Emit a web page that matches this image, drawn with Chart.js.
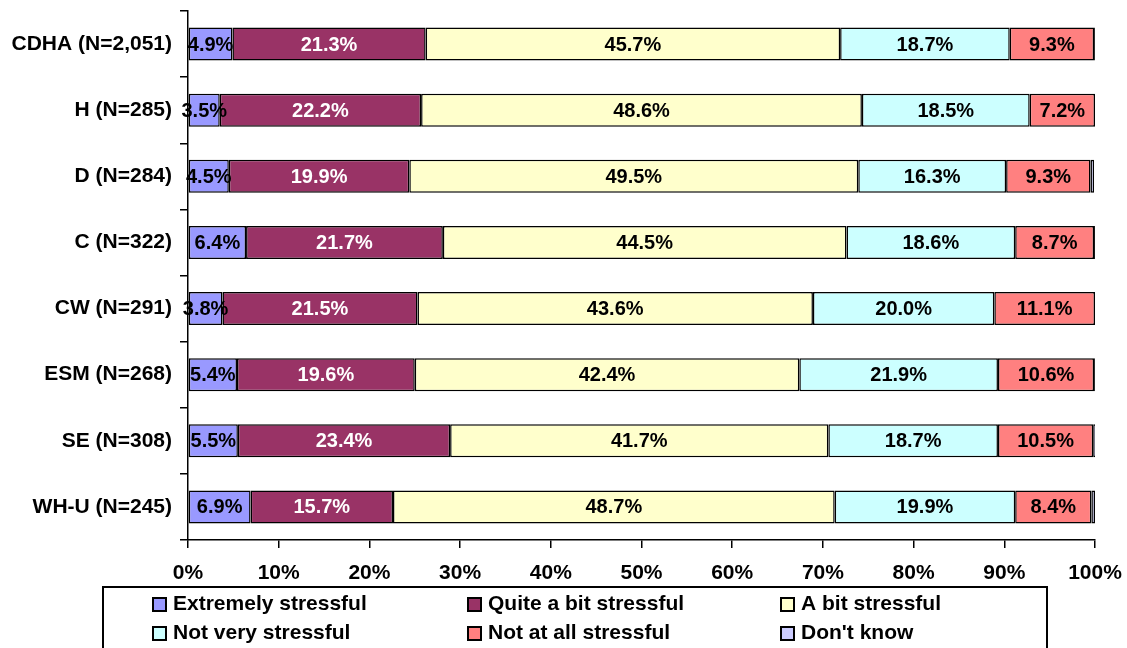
<!DOCTYPE html>
<html>
<head>
<meta charset="utf-8">
<script src="https://cdn.jsdelivr.net/npm/chart.js@4.4.0/dist/chart.umd.min.js"></script>
<style>
  html, body { margin: 0; padding: 0; background: #fff; }
</style>
</head>
<body>
<canvas id="stressChart" width="1127" height="648"></canvas>
<script>
const categories = ['CDHA (N=2,051)', 'H (N=285)', 'D (N=284)', 'C (N=322)', 'CW (N=291)', 'ESM (N=268)', 'SE (N=308)', 'WH-U (N=245)'];

const extremely = [4.9, 3.5, 4.5, 6.4, 3.8, 5.4, 5.5, 6.9];
const quiteABit = [21.3, 22.2, 19.9, 21.7, 21.5, 19.6, 23.4, 15.7];
const aBit      = [45.7, 48.6, 49.5, 44.5, 43.6, 42.4, 41.7, 48.7];
const notVery   = [18.7, 18.5, 16.3, 18.6, 20.0, 21.9, 18.7, 19.9];
const notAtAll  = [9.3, 7.2, 9.3, 8.7, 11.1, 10.6, 10.5, 8.4];
const dontKnow  = [0.4, 0.0, 0.4, 0.1, 0.0, 0.1, 0.4, 0.4];

const xTickStep = 10;   // 0% .. 100%

const FONT = "'Liberation Sans', Arial, sans-serif";

// value labels centred on each segment (no datalabels plugin offline)
const barLabels = {
    id: 'barLabels',
    afterDatasetsDraw(chart) {
        const ctx = chart.ctx;
        ctx.save();
        ctx.font = 'bold 20px ' + FONT;
        ctx.textAlign = 'center';
        ctx.textBaseline = 'middle';
        chart.data.datasets.forEach((ds, i) => {
            if (!ds.labelColor) return;
            chart.getDatasetMeta(i).data.forEach((bar, j) => {
                ctx.fillStyle = ds.labelColor;
                ctx.fillText(ds.data[j].toFixed(1) + '%', (bar.x + bar.base) / 2, bar.y + 1);
            });
        });
        ctx.restore();
    }
};

// boxed legend, 3 columns x 2 rows like the original
const boxLegend = {
    id: 'boxLegend',
    afterDraw(chart) {
        const ctx = chart.ctx;
        const cols = [153, 468, 781];
        const rows = [604, 633];
        ctx.save();
        ctx.strokeStyle = '#000';
        ctx.lineWidth = 2;
        ctx.strokeRect(103, 587, 944, 80);
        ctx.font = 'bold 21px ' + FONT;
        ctx.textBaseline = 'middle';
        ctx.textAlign = 'left';
        chart.data.datasets.forEach((ds, i) => {
            const x = cols[i % 3];
            const y = rows[Math.floor(i / 3)];
            ctx.fillStyle = ds.backgroundColor;
            ctx.fillRect(x, y - 6, 13, 13);
            ctx.lineWidth = 2;
            ctx.strokeRect(x, y - 6, 13, 13);
            ctx.fillStyle = '#000';
            ctx.fillText(ds.label, x + 20, y);
        });
        ctx.restore();
    }
};

const common = { borderColor: '#000', borderWidth: 1.5, borderSkipped: false, categoryPercentage: 1, barPercentage: 0.5 };

new Chart(document.getElementById('stressChart'), {
    type: 'bar',
    data: {
        labels: categories,
        datasets: [
            { ...common, label: 'Extremely stressful',   data: extremely, backgroundColor: '#9999FF', labelColor: '#000' },
            { ...common, label: 'Quite a bit stressful', data: quiteABit, backgroundColor: '#993366', labelColor: '#fff' },
            { ...common, label: 'A bit stressful',       data: aBit,      backgroundColor: '#FFFFCC', labelColor: '#000' },
            { ...common, label: 'Not very stressful',    data: notVery,   backgroundColor: '#CCFFFF', labelColor: '#000' },
            { ...common, label: 'Not at all stressful',  data: notAtAll,  backgroundColor: '#FF8080', labelColor: '#000' },
            { ...common, label: "Don't know",            data: dontKnow,  backgroundColor: '#CCCCFF' }
        ]
    },
    options: {
        indexAxis: 'y',
        responsive: false,
        animation: false,
        layout: { padding: { top: 11, right: 32, left: 0, bottom: 0 } },
        plugins: {
            legend: { display: false },
            tooltip: { enabled: false }
        },
        scales: {
            x: {
                stacked: true,
                min: 0, max: 100,
                afterFit(s) { s.height = 108; s.paddingLeft = 0; s.paddingRight = 0; },
                border: { color: '#000', width: 1.5 },
                grid: { drawOnChartArea: false, color: '#000', lineWidth: 1.5, tickLength: 8 },
                ticks: {
                    stepSize: xTickStep,
                    color: '#000',
                    padding: 13,
                    font: { family: FONT, size: 21, weight: 'bold' },
                    callback: v => v + '%'
                }
            },
            y: {
                stacked: true,
                afterFit(s) { s.width = 188; s.paddingTop = 0; s.paddingBottom = 0; },
                border: { color: '#000', width: 1.5 },
                grid: { offset: true, drawOnChartArea: false, color: '#000', lineWidth: 1.5, tickLength: 8 },
                ticks: {
                    color: '#000',
                    padding: 8,
                    font: { family: FONT, size: 21, weight: 'bold' }
                }
            }
        }
    },
    plugins: [barLabels, boxLegend]
});
</script>
</body>
</html>
